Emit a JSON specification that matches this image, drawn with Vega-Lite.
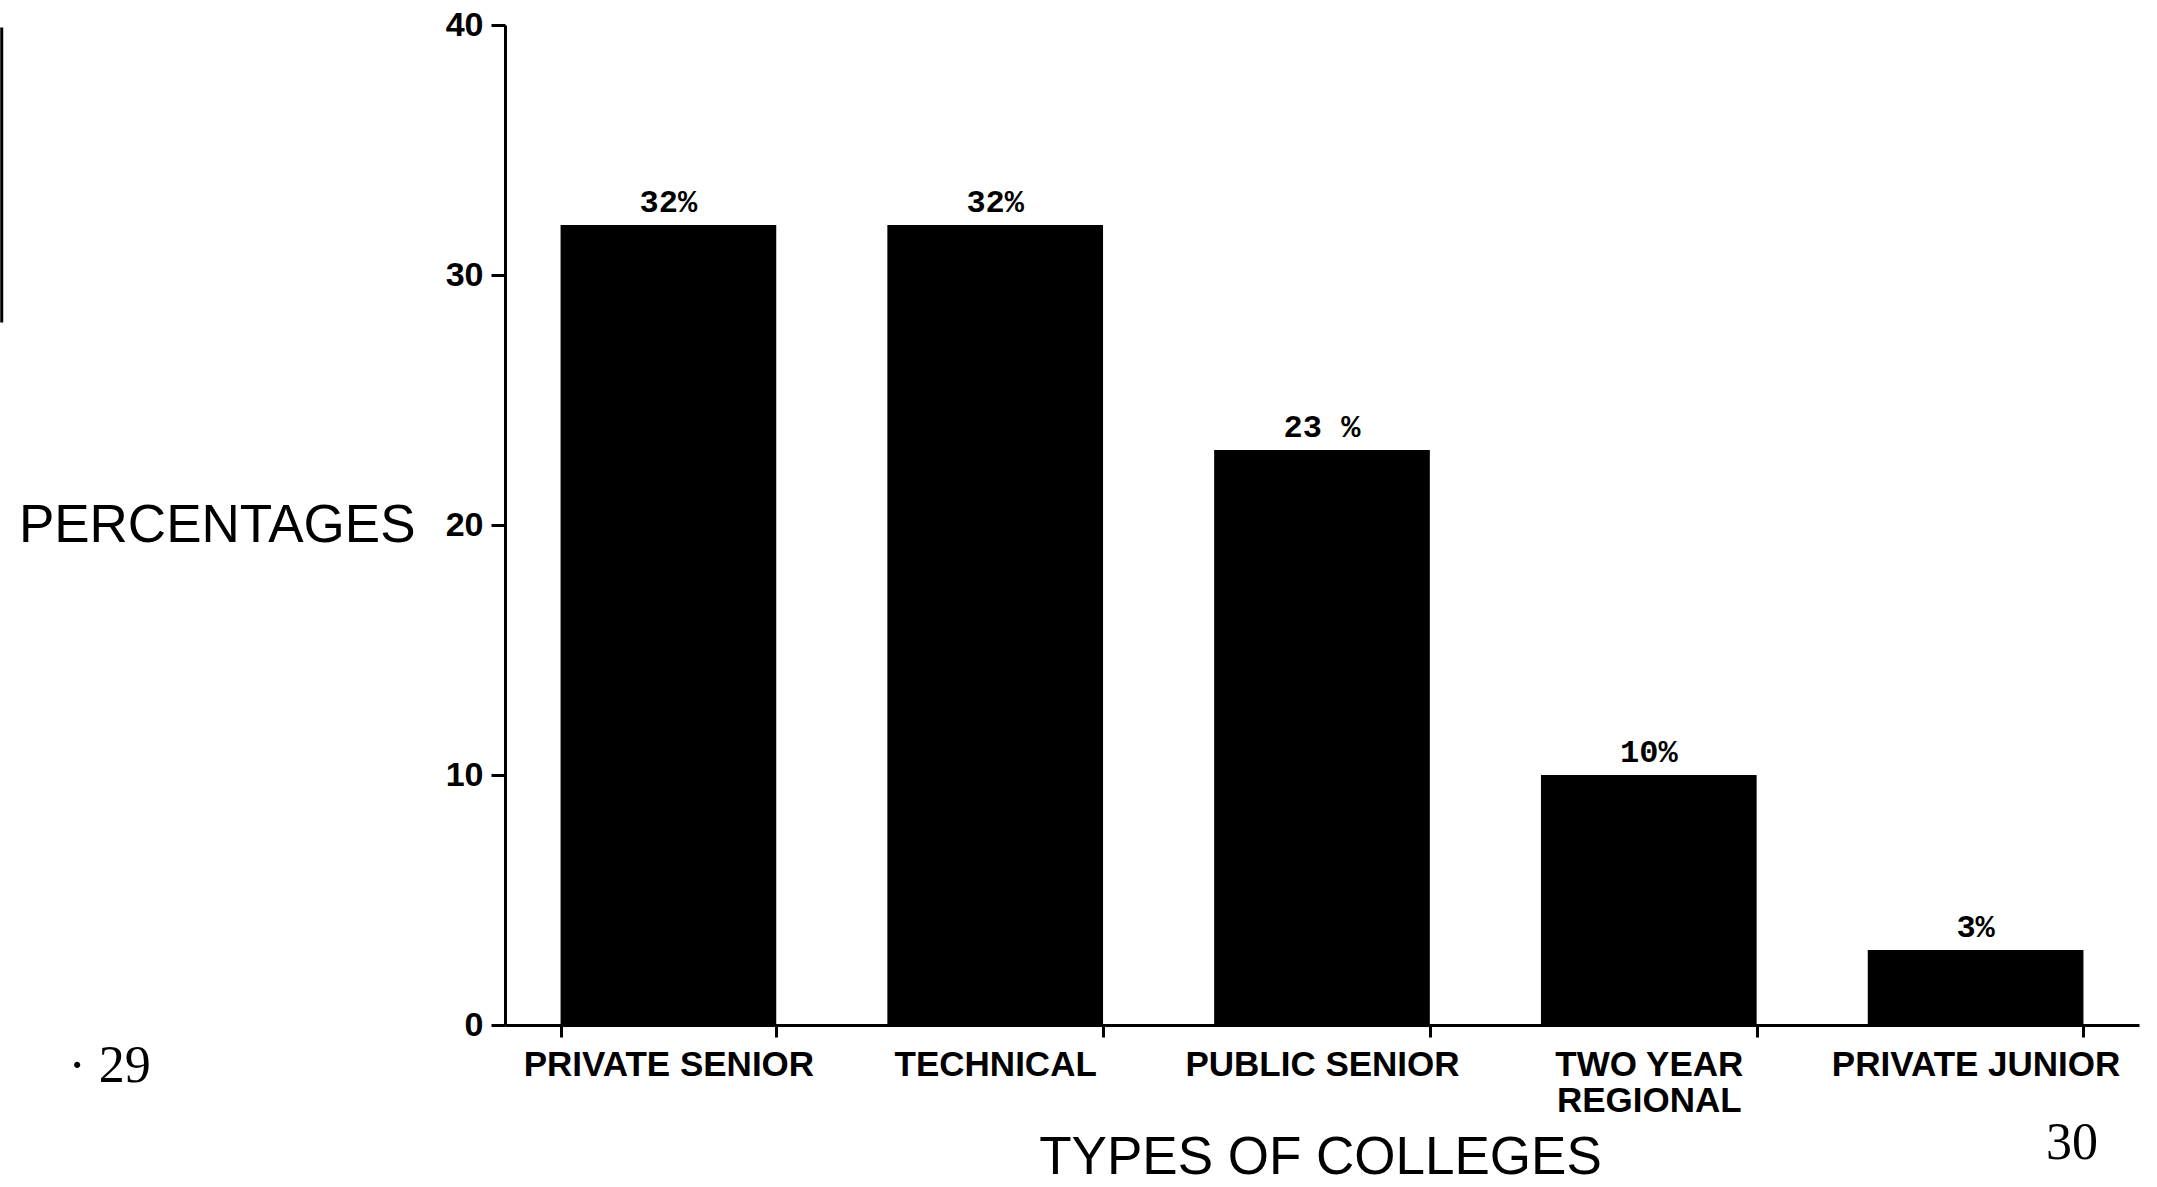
{
  "$schema": "https://vega.github.io/schema/vega-lite/v6.json",
  "width": 1634,
  "height": 1000,
  "autosize": {"type": "none"},
  "padding": {"left": 505, "top": 25, "right": 18, "bottom": 162},
  "background": "white",
  "config": {"view": {"stroke": null}, "font": "Liberation Sans"},
  "datasets": {
    "colleges": [
      {"type": "PRIVATE SENIOR", "pct": 32, "label": "32%"},
      {"type": "TECHNICAL", "pct": 32, "label": "32%"},
      {"type": "PUBLIC SENIOR", "pct": 23, "label": "23 %"},
      {"type": "TWO YEAR REGIONAL", "pct": 10, "label": "10%"},
      {"type": "PRIVATE JUNIOR", "pct": 3, "label": "3%"}
    ],
    "pages": [
      {"page": "· 29", "px": -0.242, "pct": -1.64},
      {"page": "30", "px": 0.959, "pct": -4.72}
    ],
    "edge": [
      {"px": -0.308, "pct": 39.9, "pct2": 28.1}
    ]
  },
  "layer": [
    {
      "data": {"name": "colleges"},
      "encoding": {
        "x": {
          "field": "type", "type": "nominal", "sort": null,
          "scale": {"paddingInner": 0.34, "paddingOuter": 0.17},
          "axis": {
            "title": "TYPES OF COLLEGES",
            "labelAngle": 0,
            "labelLimit": 0,
            "labelFont": "Liberation Sans",
            "labelFontWeight": "bold",
            "labelFontSize": 35,
            "labelColor": "black",
            "labelPadding": 10,
            "labelLineHeight": 36,
            "labelBaseline": "top",
            "labelExpr": "datum.label == 'TWO YEAR REGIONAL' ? ['TWO YEAR', 'REGIONAL'] : datum.label",
            "tickBand": "extent",
            "tickSize": 12,
            "tickWidth": 3,
            "tickColor": "black",
            "domainColor": "black",
            "domainWidth": 3,
            "titleFont": "Liberation Sans",
            "titleFontSize": 53,
            "titleFontWeight": "normal",
            "titleColor": "black",
            "titleX": 815,
            "titleY": 148,
            "titleBaseline": "alphabetic",
            "titleAlign": "center"
          }
        },
        "y": {
          "field": "pct", "type": "quantitative",
          "scale": {"domain": [0, 40], "nice": false},
          "axis": {
            "title": "PERCENTAGES",
            "values": [0, 10, 20, 30, 40],
            "grid": false,
            "labelFont": "Liberation Sans",
            "labelFontWeight": "bold",
            "labelFontSize": 34,
            "labelColor": "black",
            "labelPadding": 8,
            "tickSize": 14,
            "tickWidth": 3,
            "tickColor": "black",
            "domainColor": "black",
            "domainWidth": 3,
            "titleFont": "Liberation Sans",
            "titleFontSize": 53,
            "titleFontWeight": "normal",
            "titleColor": "black",
            "titleAngle": 0,
            "titleAlign": "right",
            "titleBaseline": "middle",
            "titleX": -90,
            "titleY": 500
          }
        }
      },
      "layer": [
        {"mark": {"type": "bar", "color": "black"}},
        {
          "mark": {"type": "text", "baseline": "bottom", "dy": -6, "font": "Liberation Mono", "fontWeight": "bold", "fontSize": 32, "color": "black"},
          "encoding": {"text": {"field": "label"}}
        }
      ]
    },
    {
      "data": {"name": "pages"},
      "mark": {"type": "text", "font": "Liberation Serif", "fontSize": 52, "color": "black", "baseline": "middle"},
      "encoding": {
        "x": {"field": "px", "type": "quantitative", "scale": {"domain": [0, 1], "nice": false, "zero": false}, "axis": null},
        "y": {"field": "pct", "type": "quantitative"},
        "text": {"field": "page"}
      }
    },
    {
      "data": {"name": "edge"},
      "mark": {"type": "rule", "color": "black", "strokeWidth": 3},
      "encoding": {
        "x": {"field": "px", "type": "quantitative", "scale": {"domain": [0, 1], "nice": false, "zero": false}, "axis": null},
        "y": {"field": "pct", "type": "quantitative"},
        "y2": {"field": "pct2"}
      }
    }
  ],
  "resolve": {"scale": {"x": "independent"}}
}
